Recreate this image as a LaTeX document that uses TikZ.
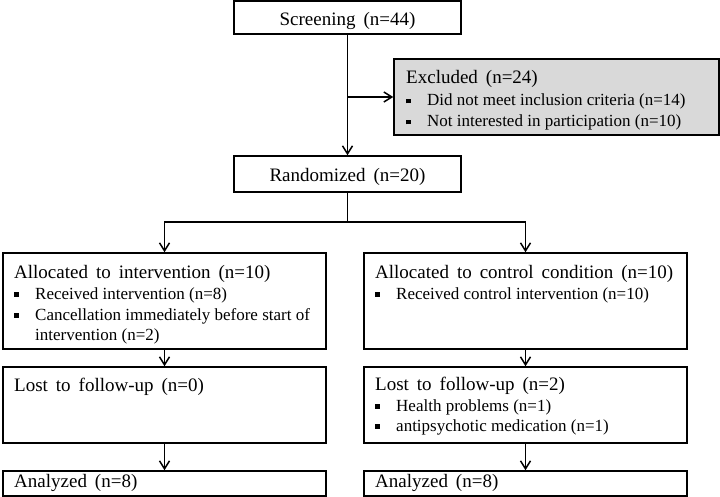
\documentclass[tikz,border=0pt]{standalone}
\usepackage{fontspec}
\setmainfont{Liberation Serif}
\usetikzlibrary{arrows.meta}
\definecolor{exgray}{RGB}{217,217,217}
\newcommand{\hd}{\fontsize{19}{21}\selectfont\spaceskip=0.42em\relax}
\newcommand{\bl}{\fontsize{17}{20}\selectfont}
\newcommand{\bsq}{\makebox[21pt][l]{\rule[2.5pt]{4.8pt}{4.8pt}}}
\begin{document}
\begin{tikzpicture}[x=1pt,y=-1pt,
  box/.style={draw, line width=1.5pt, inner sep=0pt},
  ln/.style={line width=1.5pt},
  arr/.style={line width=1.5pt, -{Straight Barb[length=8pt,width=10pt,line width=1.5pt]}},
  tx/.style={anchor=base west, inner sep=0pt},
  tc/.style={anchor=base, inner sep=0pt}]
\useasboundingbox (0,0) rectangle (720,497);
% boxes
\node[box, minimum width=227pt, minimum height=33pt] (scr) at (347.5,17.5) {};
\node[box, fill=exgray, minimum width=325pt, minimum height=76pt] (exc) at (556.5,97) {};
\node[box, minimum width=227pt, minimum height=36pt] (rnd) at (347.5,174) {};
\node[box, minimum width=323pt, minimum height=96pt] (a1) at (164.5,301) {};
\node[box, minimum width=323pt, minimum height=96pt] (a2) at (525.5,301) {};
\node[box, minimum width=323pt, minimum height=76pt] (l1) at (164.5,405) {};
\node[box, minimum width=323pt, minimum height=76pt] (l2) at (525.5,405) {};
\node[box, minimum width=323pt, minimum height=25pt] (n1) at (164.5,483.5) {};
\node[box, minimum width=323pt, minimum height=25pt] (n2) at (525.5,483.5) {};
% texts
\node[tc] (scrt) at (347.5,26) {\hd Screening (n=44)};
\node[tc] (rndt) at (347.5,182) {\hd Randomized (n=20)};
\node[tx] (exct) at (406,84) {\hd Excluded (n=24)};
\node[tx] (exc1) at (406,106) {\bl\bsq Did not meet inclusion criteria (n=14)};
\node[tx] (exc2) at (406,127) {\bl\bsq Not interested in participation (n=10)};
\node[tx] (a1t) at (14,278) {\hd Allocated to intervention (n=10)};
\node[tx] (a1b1) at (14,299) {\bl\bsq Received intervention (n=8)};
\node[tx] (a1b2) at (14,320) {\bl\bsq Cancellation immediately before start of};
\node[tx] (a1b3) at (35,340) {\bl intervention (n=2)};
\node[tx] (a2t) at (375,278) {\hd Allocated to control condition (n=10)};
\node[tx] (a2b1) at (375,299) {\bl\bsq Received control intervention (n=10)};
\node[tx] (l1t) at (14,391) {\hd Lost to follow-up (n=0)};
\node[tx] (l2t) at (375,390) {\hd Lost to follow-up (n=2)};
\node[tx] (l2b1) at (375,411) {\bl\bsq Health problems (n=1)};
\node[tx] (l2b2) at (375,431) {\bl\bsq antipsychotic medication (n=1)};
\node[tx] (n1t) at (14,487) {\hd Analyzed (n=8)};
\node[tx] (n2t) at (375,487) {\hd Analyzed (n=8)};
% connectors
\coordinate (br) at (scr.south |- exc.west);
\coordinate (sp) at (347.5,222);
\draw[arr] (scr.south) -- (rnd.north);
\draw[arr] (br) -- (exc.west);
\draw[ln] (rnd.south) -- (sp);
\draw[arr] (sp) -| (a1.north);
\draw[arr] (sp) -| (a2.north);
\draw[arr] (a1.south) -- (l1.north);
\draw[arr] (l1.south) -- (n1.north);
\draw[arr] (a2.south) -- (l2.north);
\draw[arr] (l2.south) -- (n2.north);
\end{tikzpicture}
\end{document}
